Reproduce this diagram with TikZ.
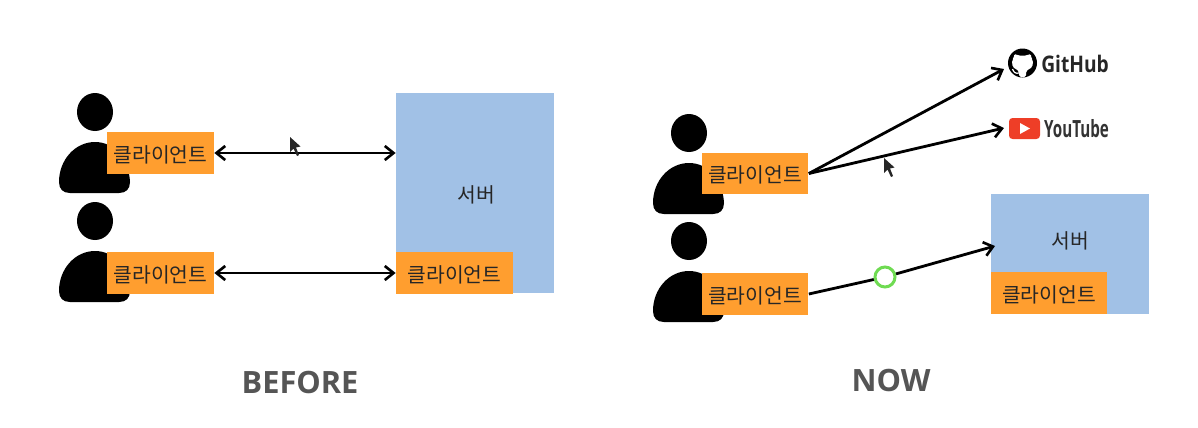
\documentclass[tikz,border=0pt]{standalone}
\usepackage{fontspec}
\setmainfont{Open Sans}
\newfontfamily\cjk{Noto Sans CJK KR}
\usepackage{xcolor}
\usetikzlibrary{positioning, arrows.meta, calc}

\definecolor{naranja}{HTML}{FF9E2F}
\definecolor{azulsrv}{HTML}{A1C1E6}
\definecolor{verdeok}{HTML}{6FDB52}
\definecolor{rojoyt}{HTML}{EE3E27}
\definecolor{grisfin}{HTML}{555555}

\tikzset{
    clientbox/.style={fill=naranja, minimum width=2.14cm, minimum height=0.83cm, inner sep=0pt, text height=11pt, text depth=0.5pt, font=\cjk\fontsize{11.6pt}{14pt}\selectfont, text=black!85},
    srvbox/.style={fill=azulsrv, inner sep=0pt},
    srvtext/.style={font=\cjk\fontsize{11.6pt}{14pt}\selectfont, text=black!85},
    titletext/.style={font=\bfseries\fontsize{17.5pt}{20pt}\selectfont, text=grisfin},
    flecha/.style={line width=1.6pt, -{Straight Barb[length=5pt,width=8pt,line width=1.5pt]}},
    flechados/.style={line width=1.6pt, {Straight Barb[length=5pt,width=8pt,line width=1.5pt]}-{Straight Barb[length=5pt,width=8pt,line width=1.5pt]}}
}

% persona: cabeza y cuerpo, #1 = x de la cabeza, #2 = y de la cabeza
\newcommand{\persona}[2]{
    \fill (#1,#2) ellipse [x radius=18, y radius=19];
    \fill[shift={(#1,#2)}] (-36,70) .. controls (-36,48) and (-20,30) .. (0,30)
        .. controls (20,30) and (34,48) .. (35,70)
        .. controls (35,77) and (31,81) .. (24,81) -- (-25,81)
        .. controls (-32,81) and (-36,77) .. (-36,70) -- cycle;
}
% puntero del raton
\newcommand{\puntero}[2]{
    \fill[shift={(#1,#2)}, black!85] (0,0) -- (0,15) -- (3.5,11.5) -- (7,19) -- (9,18) -- (6,10.5) -- (10.5,9.5) -- cycle;
}

\begin{document}
\begin{tikzpicture}[x=0.02cm, y=-0.02cm]
    \useasboundingbox (0,0) rectangle (1198,427);

    % Antes
    \persona{95}{112}
    \persona{95}{221}
    \node[clientbox] (cli1) at (160.5,153) {클라이언트};
    \node[clientbox] (cli2) at (160.5,273) {클라이언트};
    \node[srvbox, minimum width=3.16cm, minimum height=4cm] (srv1) at (475,193) {};
    \node[srvtext] (srv1txt) at (476,195) {서버};
    \node[clientbox, minimum width=2.34cm] (cli3) at (454.5,273) {클라이언트};
    \draw[flechados] (cli1.east) -- (cli1.east -| srv1.west);
    \draw[flechados] (cli2.east) -- (cli3.west);
    \puntero{290}{137}
    \node[titletext] (antes) at (300,382) {BEFORE};

    % Ahora
    \persona{689}{133}
    \persona{689}{241}
    \node[clientbox] (cli4) at (755,173.5) {클라이언트};
    \node[clientbox] (cli5) at (755,294) {클라이언트};
    \node[srvbox, minimum width=3.16cm, minimum height=2.4cm] (srv2) at (1070,254) {};
    \node[srvtext] (srv2txt) at (1070,241) {서버};
    \node[clientbox, minimum width=2.32cm] (cli6) at (1049,293) {클라이언트};
    \node[circle, draw=verdeok, fill=white, line width=1.7pt, minimum size=0.4cm, inner sep=0pt] (okcirc) at (885,277) {};
    \coordinate (srv2in) at (995,246);
    \draw[line width=1.6pt] (cli5.east) -- (okcirc);
    \draw[flecha] (okcirc) -- (srv2in);

    % GitHub
    \node[circle, fill=black, minimum size=0.58cm, inner sep=0pt] (ghlogo) at (1022.5,63) {};
    \fill[white, rounded corners=1pt, shift={(ghlogo.center)}] (-3.5,14) -- (-3.5,8) -- (-10,4) -- (-10.5,-3) -- (-8.5,-5)
        -- (-8.5,-9.5) -- (-4.5,-7.5) -- (4.5,-7.5) -- (8.5,-9.5) -- (8.5,-5) -- (10.5,-3) -- (10,4) -- (3.5,8) -- (3.5,14) -- cycle;
    \draw[white, line width=0.7pt, shift={(ghlogo.center)}] (-3.5,10) .. controls (-7,11) and (-9,9) .. (-10,6);
    \node[anchor=west, inner sep=0pt, xscale=0.84, font=\bfseries\fontsize{13pt}{15pt}\selectfont, text=black!85] (ghtxt) at (1041,64) {GitHub};
    \coordinate (ghin) at (1004,69);
    \draw[flecha] (cli4.east) -- (ghin);

    % YouTube
    \node[fill=rojoyt, rounded corners=2pt, minimum width=0.62cm, minimum height=0.42cm, inner sep=0pt] (ytlogo) at (1024.5,128.5) {};
    \fill[white] (1020,123) -- (1020,134) -- (1030,128.5) -- cycle;
    \node[anchor=west, inner sep=0pt, xscale=0.64, font=\bfseries\fontsize{13.5pt}{15pt}\selectfont, text=black!80] (yttxt) at (1044,129) {YouTube};
    \coordinate (ytin) at (1004,128);
    \draw[flecha] (cli4.east) -- (ytin);
    \puntero{884}{158}

    \node[titletext] (ahora) at (891,380) {NOW};
\end{tikzpicture}
\end{document}
